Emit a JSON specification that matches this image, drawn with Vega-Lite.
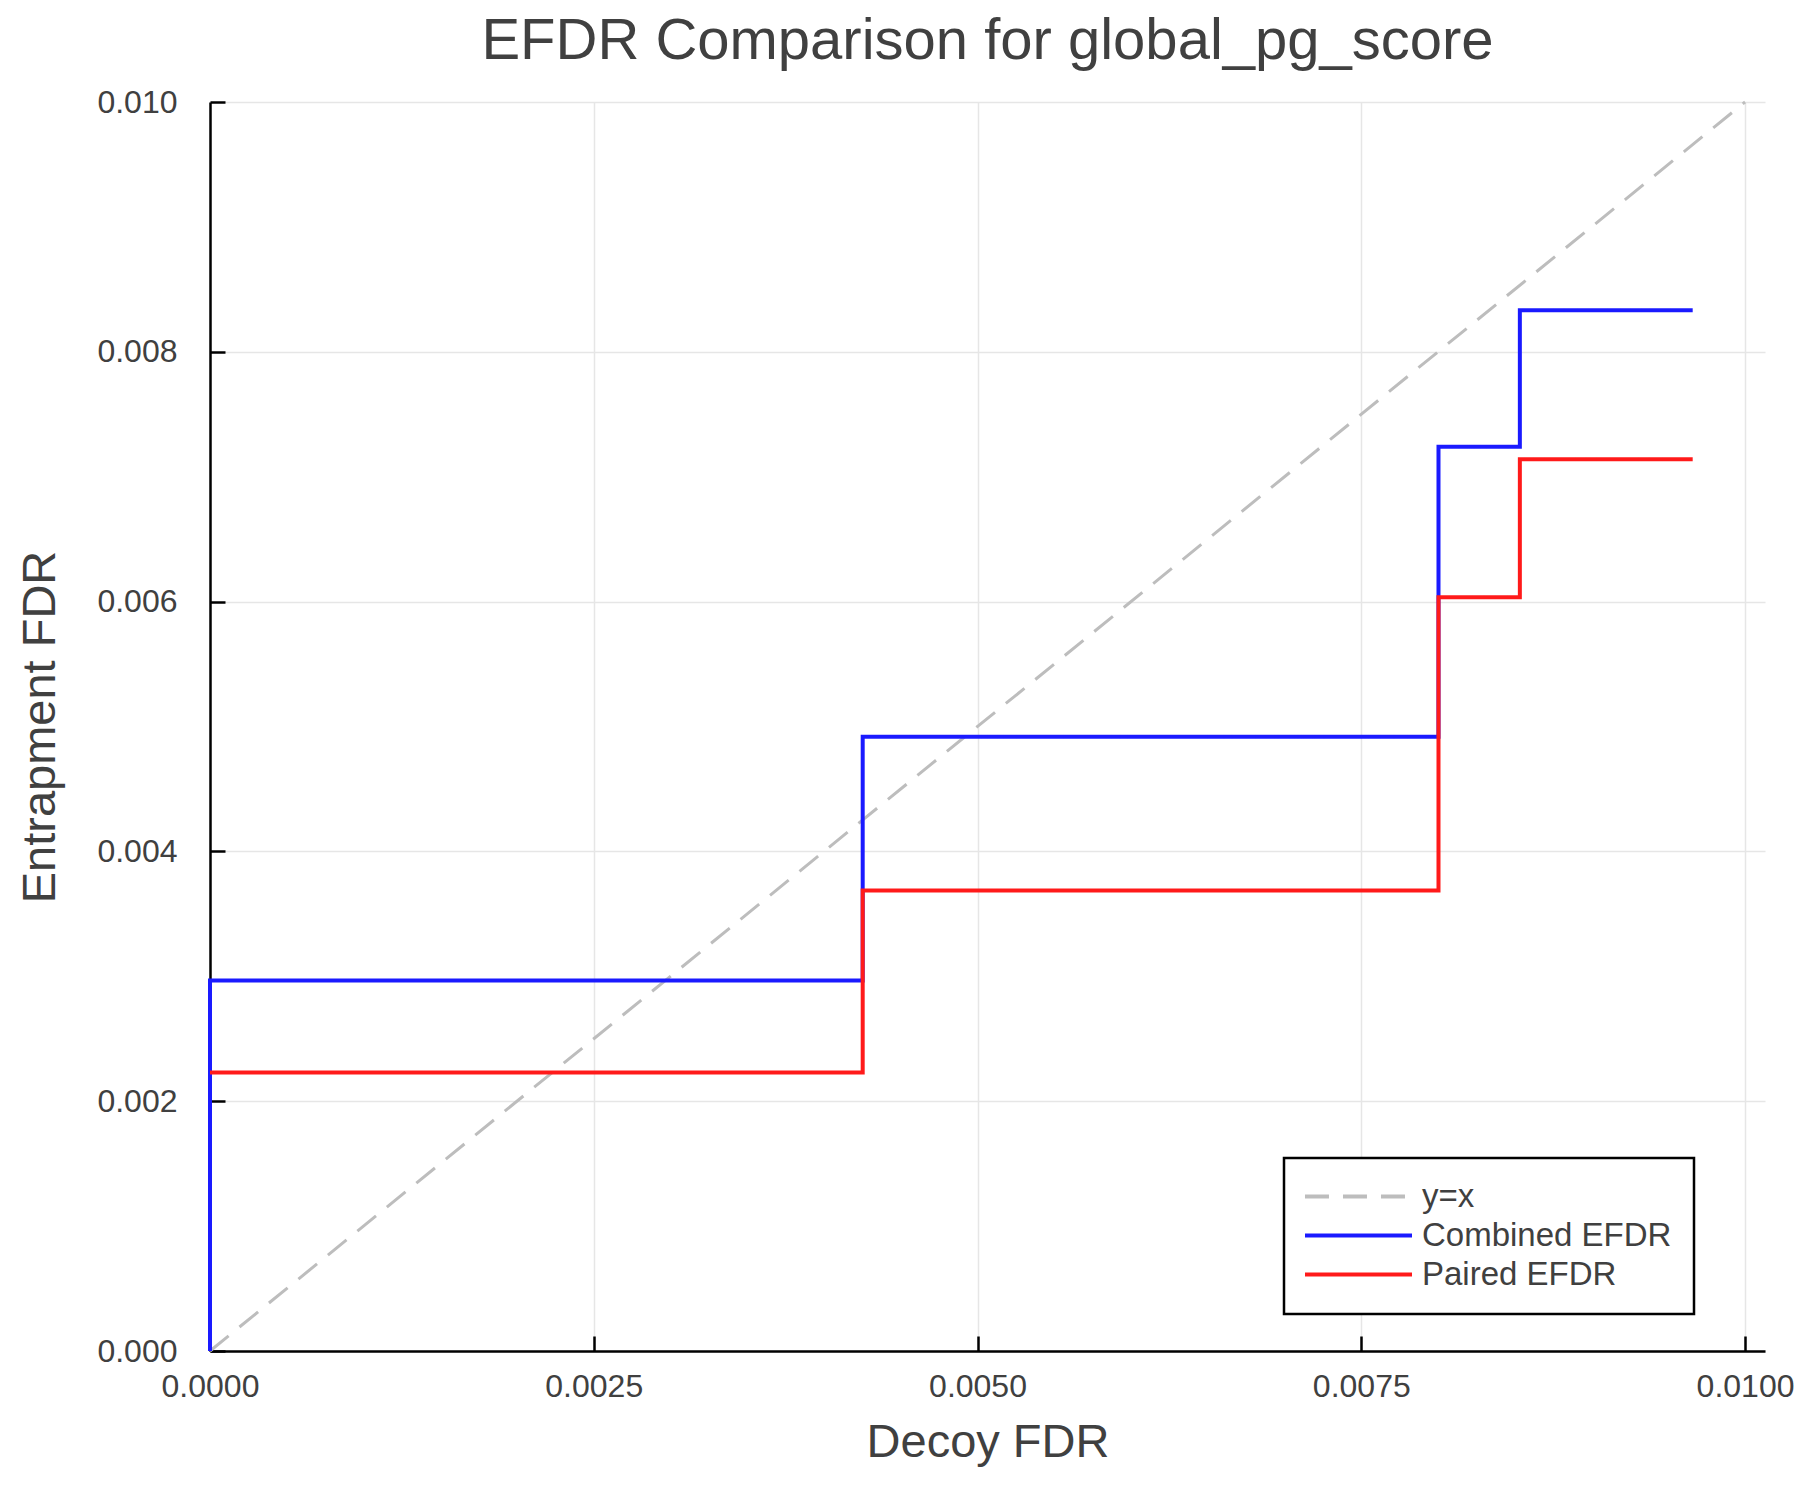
{
  "$schema": "https://vega.github.io/schema/vega-lite/v6.json",
  "description": "EFDR comparison step chart",
  "width": 1555,
  "height": 1249,
  "autosize": {"type": "none"},
  "padding": {"left": 210, "top": 102, "right": 35, "bottom": 149},
  "background": "white",
  "title": {
    "text": "EFDR Comparison for global_pg_score",
    "font": "Liberation Sans",
    "fontSize": 58,
    "fontWeight": "normal",
    "color": "#404040",
    "anchor": "middle",
    "frame": "group",
    "offset": 15
  },
  "config": {
    "view": {"stroke": null},
    "font": "Liberation Sans",
    "axis": {
      "domainColor": "black",
      "domainWidth": 2.5,
      "tickColor": "black",
      "tickWidth": 2.5,
      "tickSize": -15,
      "gridColor": "#e6e6e6",
      "gridWidth": 1.5,
      "labelFont": "Liberation Sans",
      "labelFontSize": 32,
      "labelColor": "#404040",
      "labelFlush": false,
      "labelOverlap": false,
      "titleFont": "Liberation Sans",
      "titleFontSize": 47,
      "titleFontWeight": "normal",
      "titleColor": "#404040"
    },
    "legend": {
      "orient": "none",
      "legendX": 1074,
      "legendY": 1056,
      "strokeColor": "black",
      "strokeWidth": 2.5,
      "fillColor": "white",
      "padding": 22,
      "labelFont": "Liberation Sans",
      "labelFontSize": 33,
      "labelColor": "#404040",
      "labelLimit": 500,
      "labelOffset": 47,
      "labelExpr": "datum.label + '\u00a0\u00a0\u00a0\u00a0\u00a0\u00a0\u00a0\u00a0'",
      "symbolType": "M-4,0H4",
      "symbolSize": 716,
      "symbolOffset": 36,
      "symbolStrokeWidth": 4,
      "rowPadding": 5
    }
  },
  "datasets": {
    "diag": [
      {"series": "y=x", "decoy": 0, "entrap": 0},
      {"series": "y=x", "decoy": 0.01, "entrap": 0.01}
    ],
    "efdr": [
      {"series": "Combined EFDR", "i": 0, "decoy": 0, "entrap": 0},
      {"series": "Combined EFDR", "i": 1, "decoy": 0, "entrap": 0.002966},
      {"series": "Combined EFDR", "i": 2, "decoy": 0.004252, "entrap": 0.004918},
      {"series": "Combined EFDR", "i": 3, "decoy": 0.008003, "entrap": 0.00724},
      {"series": "Combined EFDR", "i": 4, "decoy": 0.008533, "entrap": 0.008333},
      {"series": "Combined EFDR", "i": 5, "decoy": 0.009659, "entrap": 0.008333},
      {"series": "Paired EFDR", "i": 1, "decoy": 0, "entrap": 0.00223},
      {"series": "Paired EFDR", "i": 2, "decoy": 0.004252, "entrap": 0.003686},
      {"series": "Paired EFDR", "i": 3, "decoy": 0.008003, "entrap": 0.006035},
      {"series": "Paired EFDR", "i": 4, "decoy": 0.008533, "entrap": 0.00714},
      {"series": "Paired EFDR", "i": 5, "decoy": 0.009659, "entrap": 0.00714}
    ]
  },
  "encoding": {
    "x": {
      "field": "decoy",
      "type": "quantitative",
      "title": "Decoy FDR",
      "scale": {"domain": [0, 0.01013], "nice": false, "zero": false},
      "axis": {
        "values": [0, 0.0025, 0.005, 0.0075, 0.01],
        "format": ".4f",
        "labelPadding": 35,
        "titlePadding": 17
      }
    },
    "y": {
      "field": "entrap",
      "type": "quantitative",
      "title": "Entrapment FDR",
      "scale": {"domain": [0, 0.01], "nice": false, "zero": false},
      "axis": {
        "values": [0, 0.002, 0.004, 0.006, 0.008, 0.01],
        "format": ".3f",
        "labelPadding": 48,
        "titlePadding": 32
      }
    },
    "color": {
      "field": "series",
      "type": "nominal",
      "title": null,
      "scale": {
        "domain": ["y=x", "Combined EFDR", "Paired EFDR"],
        "range": ["#bdbdbd", "#1a1aff", "#ff1a1a"]
      }
    },
    "strokeDash": {
      "field": "series",
      "type": "nominal",
      "title": null,
      "scale": {
        "domain": ["y=x", "Combined EFDR", "Paired EFDR"],
        "range": [[24, 14], [1, 0], [1, 0]]
      }
    }
  },
  "layer": [
    {
      "data": {"name": "diag"},
      "mark": {"type": "line", "strokeWidth": 3}
    },
    {
      "data": {"name": "efdr"},
      "mark": {"type": "line", "interpolate": "step-after", "strokeWidth": 4},
      "encoding": {
        "order": {"field": "i", "type": "quantitative"}
      }
    }
  ]
}
